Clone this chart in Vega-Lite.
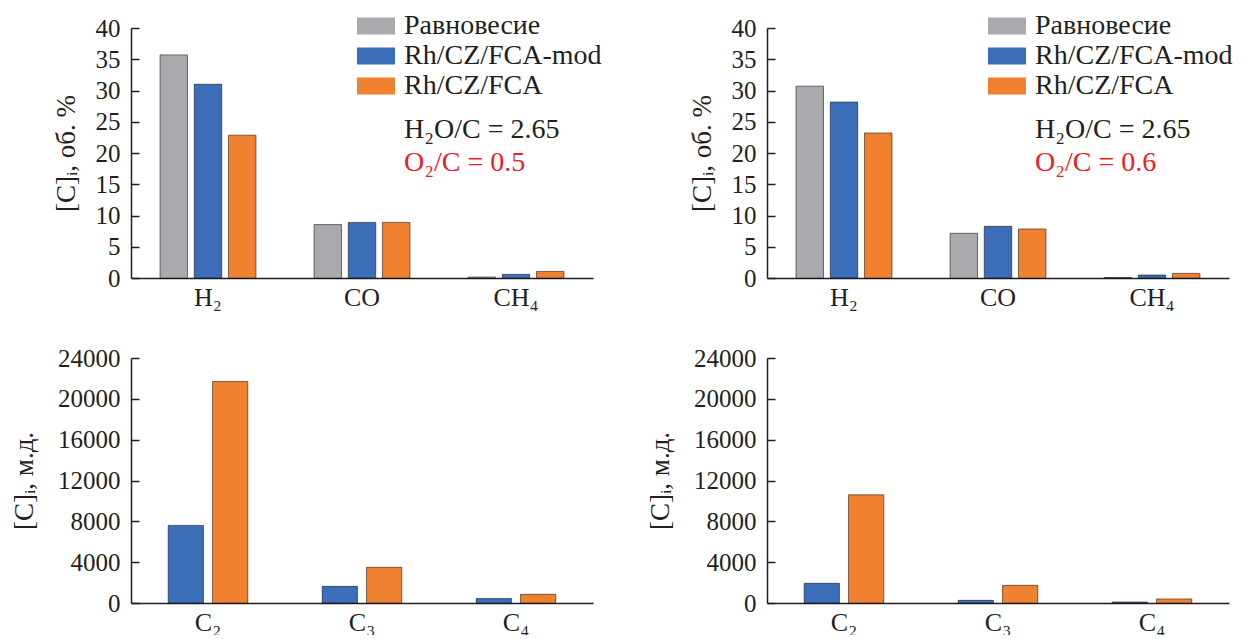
{
  "$schema": "https://vega.github.io/schema/vega-lite/v6.json",
  "padding": {"left": 10, "top": 11, "right": 0, "bottom": 0},
  "background": "white",
  "bounds": "flush",
  "columns": 2,
  "spacing": {"row": 80, "column": 174},
  "datasets": {
    "top05": [
      {"gas": "H₂", "catalyst": "Равновесие", "value": 35.7},
      {"gas": "H₂", "catalyst": "Rh/CZ/FCA-mod", "value": 31.0},
      {"gas": "H₂", "catalyst": "Rh/CZ/FCA", "value": 22.85},
      {"gas": "CO", "catalyst": "Равновесие", "value": 8.55},
      {"gas": "CO", "catalyst": "Rh/CZ/FCA-mod", "value": 8.9},
      {"gas": "CO", "catalyst": "Rh/CZ/FCA", "value": 8.9},
      {"gas": "CH₄", "catalyst": "Равновесие", "value": 0.15},
      {"gas": "CH₄", "catalyst": "Rh/CZ/FCA-mod", "value": 0.58},
      {"gas": "CH₄", "catalyst": "Rh/CZ/FCA", "value": 1.05}
    ],
    "top06": [
      {"gas": "H₂", "catalyst": "Равновесие", "value": 30.7},
      {"gas": "H₂", "catalyst": "Rh/CZ/FCA-mod", "value": 28.15},
      {"gas": "H₂", "catalyst": "Rh/CZ/FCA", "value": 23.2},
      {"gas": "CO", "catalyst": "Равновесие", "value": 7.15},
      {"gas": "CO", "catalyst": "Rh/CZ/FCA-mod", "value": 8.27},
      {"gas": "CO", "catalyst": "Rh/CZ/FCA", "value": 7.85},
      {"gas": "CH₄", "catalyst": "Равновесие", "value": 0.08},
      {"gas": "CH₄", "catalyst": "Rh/CZ/FCA-mod", "value": 0.48},
      {"gas": "CH₄", "catalyst": "Rh/CZ/FCA", "value": 0.74}
    ],
    "bot05": [
      {"gas": "C₂", "catalyst": "Rh/CZ/FCA-mod", "value": 7600},
      {"gas": "C₂", "catalyst": "Rh/CZ/FCA", "value": 21700},
      {"gas": "C₃", "catalyst": "Rh/CZ/FCA-mod", "value": 1630},
      {"gas": "C₃", "catalyst": "Rh/CZ/FCA", "value": 3500},
      {"gas": "C₄", "catalyst": "Rh/CZ/FCA-mod", "value": 430},
      {"gas": "C₄", "catalyst": "Rh/CZ/FCA", "value": 850}
    ],
    "bot06": [
      {"gas": "C₂", "catalyst": "Rh/CZ/FCA-mod", "value": 1930},
      {"gas": "C₂", "catalyst": "Rh/CZ/FCA", "value": 10600},
      {"gas": "C₃", "catalyst": "Rh/CZ/FCA-mod", "value": 260},
      {"gas": "C₃", "catalyst": "Rh/CZ/FCA", "value": 1730},
      {"gas": "C₄", "catalyst": "Rh/CZ/FCA-mod", "value": 100},
      {"gas": "C₄", "catalyst": "Rh/CZ/FCA", "value": 400}
    ]
  },
  "concat": [
    {
      "width": 462, "height": 250,
      "layer": [
        {
          "data": {"name": "top05"},
          "mark": {"type": "bar", "stroke": "#000000", "strokeOpacity": 0.5, "strokeWidth": 1},
          "encoding": {
            "x": {"field": "gas", "type": "nominal", "scale": {"domain": ["H₂", "CO", "CH₄"], "paddingInner": 0.377, "paddingOuter": 0.1885}, "axis": {"title": null}},
            "xOffset": {"field": "catalyst", "type": "nominal", "scale": {"domain": ["Равновесие", "Rh/CZ/FCA-mod", "Rh/CZ/FCA"], "paddingInner": 0.197, "paddingOuter": 0}},
            "y": {"field": "value", "type": "quantitative", "scale": {"domain": [0, 40]}, "axis": {"title": "[C]ᵢ, об. %", "titlePadding": 15, "values": [0, 5, 10, 15, 20, 25, 30, 35, 40]}},
            "color": {"field": "catalyst", "type": "nominal", "scale": {"domain": ["Равновесие", "Rh/CZ/FCA-mod", "Rh/CZ/FCA"], "range": ["#a8aaad", "#3b6db9", "#f0822f"]}, "legend": {"orient": "none", "legendX": 226, "legendY": -17}}
          }
        },
        {
          "data": {"values": [{}]},
          "mark": {"type": "text", "text": "H₂O/C = 2.65", "align": "left", "baseline": "alphabetic", "dx": 42, "font": "Liberation Serif", "fontSize": 28, "color": "#231f20"},
          "encoding": {
            "x": {"datum": "CO", "axis": {"title": null}},
            "y": {"datum": 22.4, "axis": {"title": "[C]ᵢ, об. %", "titlePadding": 15, "values": [0, 5, 10, 15, 20, 25, 30, 35, 40]}}
          }
        },
        {
          "data": {"values": [{}]},
          "mark": {"type": "text", "text": "O₂/C = 0.5", "align": "left", "baseline": "alphabetic", "dx": 42, "font": "Liberation Serif", "fontSize": 28, "color": "#ec1c24"},
          "encoding": {
            "x": {"datum": "CO", "axis": {"title": null}},
            "y": {"datum": 17.2, "axis": {"title": "[C]ᵢ, об. %", "titlePadding": 15, "values": [0, 5, 10, 15, 20, 25, 30, 35, 40]}}
          }
        }
      ]
    },
    {
      "width": 462, "height": 250,
      "layer": [
        {
          "data": {"name": "top06"},
          "mark": {"type": "bar", "stroke": "#000000", "strokeOpacity": 0.5, "strokeWidth": 1},
          "encoding": {
            "x": {"field": "gas", "type": "nominal", "scale": {"domain": ["H₂", "CO", "CH₄"], "paddingInner": 0.377, "paddingOuter": 0.1885}, "axis": {"title": null}},
            "xOffset": {"field": "catalyst", "type": "nominal", "scale": {"domain": ["Равновесие", "Rh/CZ/FCA-mod", "Rh/CZ/FCA"], "paddingInner": 0.197, "paddingOuter": 0}},
            "y": {"field": "value", "type": "quantitative", "scale": {"domain": [0, 40]}, "axis": {"title": "[C]ᵢ, об. %", "titlePadding": 15, "values": [0, 5, 10, 15, 20, 25, 30, 35, 40]}},
            "color": {"field": "catalyst", "type": "nominal", "scale": {"domain": ["Равновесие", "Rh/CZ/FCA-mod", "Rh/CZ/FCA"], "range": ["#a8aaad", "#3b6db9", "#f0822f"]}, "legend": {"orient": "none", "legendX": 221, "legendY": -17}}
          }
        },
        {
          "data": {"values": [{}]},
          "mark": {"type": "text", "text": "H₂O/C = 2.65", "align": "left", "baseline": "alphabetic", "dx": 37, "font": "Liberation Serif", "fontSize": 28, "color": "#231f20"},
          "encoding": {
            "x": {"datum": "CO", "axis": {"title": null}},
            "y": {"datum": 22.4, "axis": {"title": "[C]ᵢ, об. %", "titlePadding": 15, "values": [0, 5, 10, 15, 20, 25, 30, 35, 40]}}
          }
        },
        {
          "data": {"values": [{}]},
          "mark": {"type": "text", "text": "O₂/C = 0.6", "align": "left", "baseline": "alphabetic", "dx": 37, "font": "Liberation Serif", "fontSize": 28, "color": "#ec1c24"},
          "encoding": {
            "x": {"datum": "CO", "axis": {"title": null}},
            "y": {"datum": 17.2, "axis": {"title": "[C]ᵢ, об. %", "titlePadding": 15, "values": [0, 5, 10, 15, 20, 25, 30, 35, 40]}}
          }
        }
      ]
    },
    {
      "width": 462, "height": 245,
      "data": {"name": "bot05"},
      "mark": {"type": "bar", "stroke": "#000000", "strokeOpacity": 0.5, "strokeWidth": 1},
      "encoding": {
        "x": {"field": "gas", "type": "nominal", "scale": {"domain": ["C₂", "C₃", "C₄"], "paddingInner": 0.483, "paddingOuter": 0.2415}, "axis": {"title": null}},
        "xOffset": {"field": "catalyst", "type": "nominal", "scale": {"domain": ["Rh/CZ/FCA-mod", "Rh/CZ/FCA"], "paddingInner": 0.2045, "paddingOuter": 0}},
        "y": {"field": "value", "type": "quantitative", "scale": {"domain": [0, 24000]}, "axis": {"title": "[C]ᵢ, м.д.", "values": [0, 4000, 8000, 12000, 16000, 20000, 24000], "format": "d"}},
        "color": {"field": "catalyst", "type": "nominal", "scale": {"domain": ["Равновесие", "Rh/CZ/FCA-mod", "Rh/CZ/FCA"], "range": ["#a8aaad", "#3b6db9", "#f0822f"]}, "legend": null}
      }
    },
    {
      "width": 462, "height": 245,
      "data": {"name": "bot06"},
      "mark": {"type": "bar", "stroke": "#000000", "strokeOpacity": 0.5, "strokeWidth": 1},
      "encoding": {
        "x": {"field": "gas", "type": "nominal", "scale": {"domain": ["C₂", "C₃", "C₄"], "paddingInner": 0.483, "paddingOuter": 0.2415}, "axis": {"title": null}},
        "xOffset": {"field": "catalyst", "type": "nominal", "scale": {"domain": ["Rh/CZ/FCA-mod", "Rh/CZ/FCA"], "paddingInner": 0.2045, "paddingOuter": 0}},
        "y": {"field": "value", "type": "quantitative", "scale": {"domain": [0, 24000]}, "axis": {"title": "[C]ᵢ, м.д.", "values": [0, 4000, 8000, 12000, 16000, 20000, 24000], "format": "d"}},
        "color": {"field": "catalyst", "type": "nominal", "scale": {"domain": ["Равновесие", "Rh/CZ/FCA-mod", "Rh/CZ/FCA"], "range": ["#a8aaad", "#3b6db9", "#f0822f"]}, "legend": null}
      }
    }
  ],
  "resolve": {
    "scale": {"x": "independent", "y": "independent", "xOffset": "independent", "color": "independent"},
    "legend": {"color": "independent"}
  },
  "config": {
    "view": {"stroke": null},
    "font": "Liberation Serif",
    "axis": {
      "labelFont": "Liberation Serif", "titleFont": "Liberation Serif",
      "labelColor": "#231f20", "titleColor": "#231f20",
      "domainColor": "#231f20", "tickColor": "#231f20",
      "domainWidth": 1.5, "tickWidth": 1.5, "grid": false,
      "titleFontWeight": "normal"
    },
    "axisY": {"labelFontSize": 25, "labelOverlap": false, "tickSize": -8, "labelPadding": 19, "titleFontSize": 27, "titlePadding": 19},
    "axisX": {"labelFontSize": 26, "ticks": false, "labelPadding": 6, "labelAngle": 0},
    "legend": {
      "title": null, "padding": 0,
      "symbolType": "M-1,-0.45L1,-0.45L1,0.45L-1,0.45Z", "symbolSize": 1444, "symbolStrokeWidth": 0,
      "labelFont": "Liberation Serif", "labelFontSize": 28, "labelColor": "#231f20", "labelLimit": 0,
      "labelOffset": 9, "rowPadding": 0, "clipHeight": 30
    }
  }
}
